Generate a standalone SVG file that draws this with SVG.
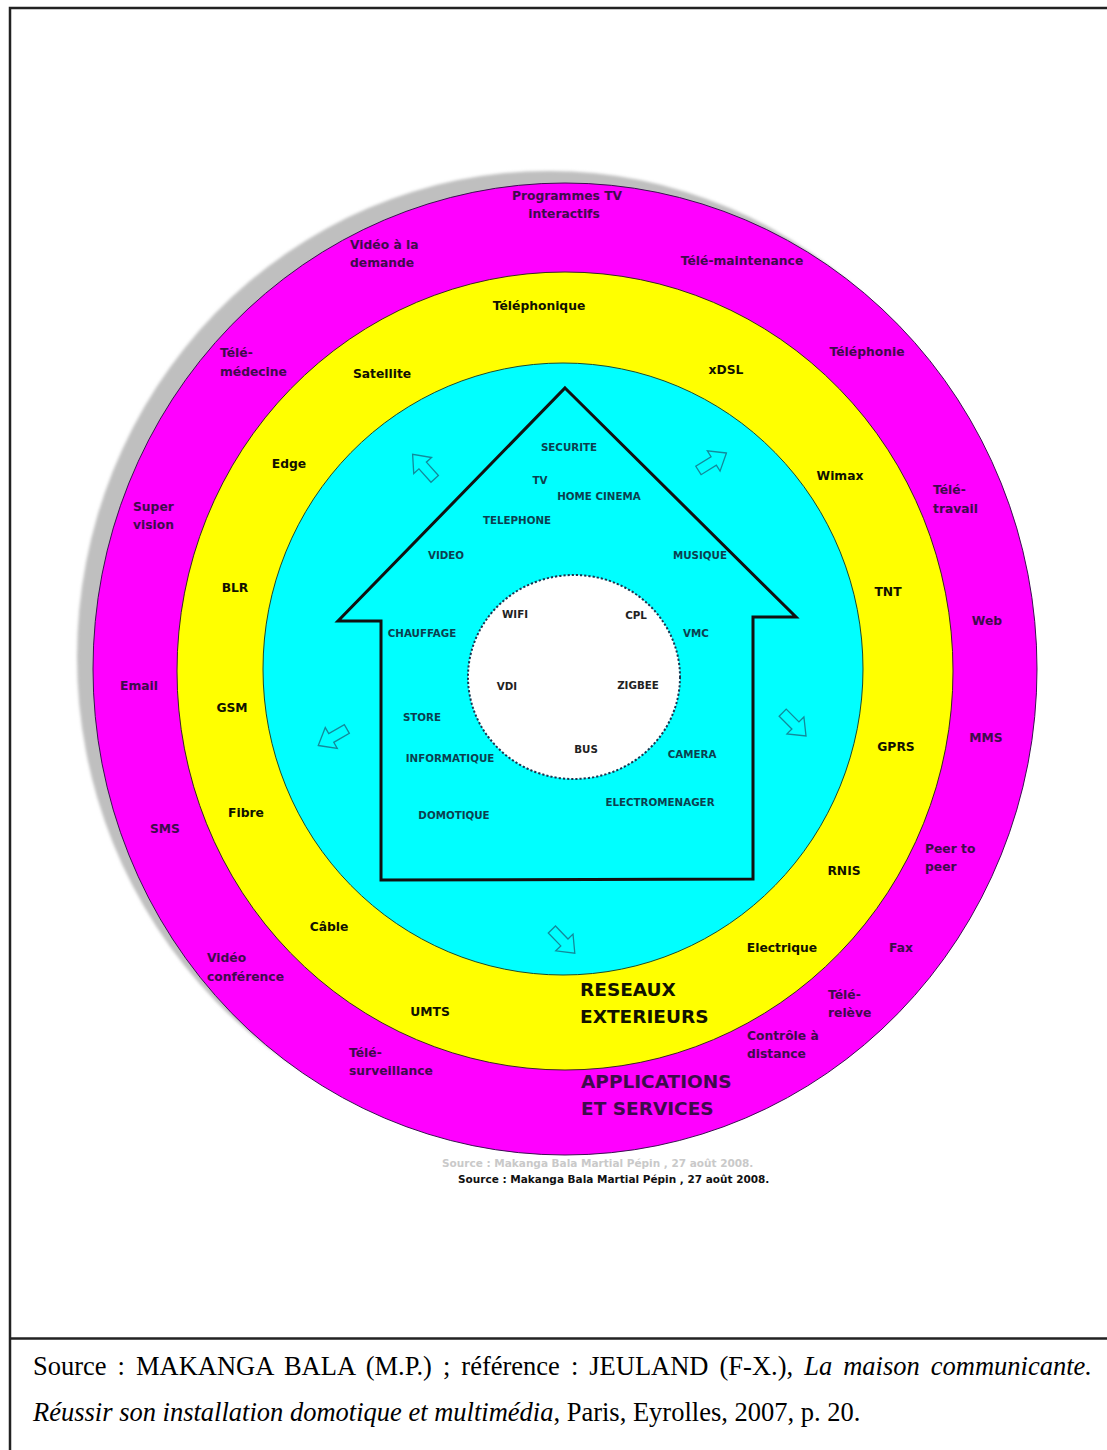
<svg xmlns="http://www.w3.org/2000/svg" width="1107" height="1450" viewBox="0 0 1107 1450">
<defs>
<style>
.ring{font-family:"DejaVu Sans",Verdana,sans-serif;font-weight:bold;font-size:12.3px}
.app{fill:#3e0b4c}
.net{fill:#111100}
.dev{font-family:"DejaVu Sans",Verdana,sans-serif;font-weight:bold;font-size:10.3px;fill:#0c3f4f}
.bus{font-family:"DejaVu Sans",Verdana,sans-serif;font-weight:bold;font-size:10.3px;fill:#222222}
.big{font-family:"DejaVu Sans",Verdana,sans-serif;font-weight:bold;font-size:18.5px}
.src{font-family:"DejaVu Sans",Verdana,sans-serif;font-weight:bold;font-size:10.5px}
.cap{font-family:"Liberation Serif","Times New Roman",serif;font-size:26.5px;fill:#000}
.mid{text-anchor:middle}
.frame{stroke:#222;stroke-width:2.5;fill:none}
.arr{fill:none;stroke:#13899a;stroke-width:1.3;stroke-linejoin:miter}
</style>
<path id="blk" d="M17,0 L2,-12 L2,-5 L-16,-5 L-16,5 L2,5 L2,12 Z"/>
<filter id="soft" x="-5%" y="-5%" width="110%" height="110%"><feGaussianBlur stdDeviation="1.5"/></filter>
</defs>
<rect width="1107" height="1450" fill="#ffffff"/>
<g id="frame">
<path class="frame" d="M10,1450 L10,8 L1107,8"/>
<path class="frame" d="M10,1338.5 L1107,1338.5"/>
</g>
<g id="ring-applications">
<ellipse cx="549" cy="657" rx="472" ry="486" fill="#bfbfbf" filter="url(#soft)"/>
<ellipse cx="565" cy="669" rx="472" ry="486" fill="#ff00ff" stroke="#3a1050" stroke-width="1"/>
</g>
<g id="ring-reseaux">
<ellipse cx="565" cy="671" rx="388" ry="399" fill="#ffff00" stroke="#3a2a20" stroke-width="1"/>
</g>
<g id="ring-maison">
<ellipse cx="563" cy="669" rx="300" ry="306" fill="#00ffff" stroke="#1a4a30" stroke-width="1"/>
</g>
<g id="house">
<polygon points="565,388 796,617 753,617 753,879 381,880 381,621 338,621" fill="#00ffff" stroke="#111111" stroke-width="3" stroke-linejoin="miter"/>
</g>
<g id="core">
<ellipse cx="574" cy="677" rx="106" ry="102" fill="#ffffff" stroke="#1a3550" stroke-width="2" stroke-dasharray="2.2 2"/>
</g>
<g id="connectors">
<use href="#blk" class="arr" transform="translate(424,467) rotate(-132)"/>
<use href="#blk" class="arr" transform="translate(712,462) rotate(-32)"/>
<use href="#blk" class="arr" transform="translate(333,737) rotate(150)"/>
<use href="#blk" class="arr" transform="translate(794,724) rotate(45)"/>
<use href="#blk" class="arr" transform="translate(563,941) rotate(46)"/>
</g>
<g id="labels-applications" class="ring app">
<text class="mid" x="567" y="200">Programmes TV</text>
<text class="mid" x="564" y="218">interactifs</text>
<text x="350" y="249">Vidéo à la</text>
<text x="350" y="267">demande</text>
<text class="mid" x="742" y="265">Télé-maintenance</text>
<text x="220" y="357">Télé-</text>
<text x="220" y="376">médecine</text>
<text class="mid" x="867" y="356">Téléphonie</text>
<text x="133" y="511">Super</text>
<text x="133" y="529">vision</text>
<text x="933" y="494">Télé-</text>
<text x="933" y="513">travail</text>
<text class="mid" x="987" y="625">Web</text>
<text class="mid" x="139" y="690">Email</text>
<text class="mid" x="986" y="742">MMS</text>
<text class="mid" x="165" y="833">SMS</text>
<text x="925" y="853">Peer to</text>
<text x="925" y="871">peer</text>
<text x="207" y="962">Vidéo</text>
<text x="207" y="981">conférence</text>
<text class="mid" x="901" y="952">Fax</text>
<text x="828" y="999">Télé-</text>
<text x="828" y="1017">relève</text>
<text x="747" y="1040">Contrôle à</text>
<text x="747" y="1058">distance</text>
<text x="349" y="1057">Télé-</text>
<text x="349" y="1075">surveillance</text>
</g>
<g id="title-applications" class="big app">
<text x="581" y="1088">APPLICATIONS</text>
<text x="581" y="1115">ET SERVICES</text>
</g>
<g id="labels-reseaux" class="ring net">
<text class="mid" x="539" y="310">Téléphonique</text>
<text class="mid" x="382" y="378">Satellite</text>
<text class="mid" x="726" y="374">xDSL</text>
<text class="mid" x="289" y="468">Edge</text>
<text class="mid" x="840" y="480">Wimax</text>
<text class="mid" x="235" y="592">BLR</text>
<text class="mid" x="888" y="596">TNT</text>
<text class="mid" x="232" y="712">GSM</text>
<text class="mid" x="896" y="751">GPRS</text>
<text class="mid" x="246" y="817">Fibre</text>
<text class="mid" x="844" y="875">RNIS</text>
<text class="mid" x="329" y="931">Câble</text>
<text class="mid" x="782" y="952">Electrique</text>
<text class="mid" x="430" y="1016">UMTS</text>
</g>
<g id="title-reseaux" class="big net">
<text x="580" y="996">RESEAUX</text>
<text x="580" y="1023">EXTERIEURS</text>
</g>
<g id="labels-maison" class="dev mid">
<text x="569" y="451">SECURITE</text>
<text x="540" y="484">TV</text>
<text x="599" y="500">HOME CINEMA</text>
<text x="517" y="524">TELEPHONE</text>
<text x="446" y="559">VIDEO</text>
<text x="700" y="559">MUSIQUE</text>
<text x="422" y="637">CHAUFFAGE</text>
<text x="696" y="637">VMC</text>
<text x="422" y="721">STORE</text>
<text x="450" y="762">INFORMATIQUE</text>
<text x="692" y="758">CAMERA</text>
<text x="660" y="806">ELECTROMENAGER</text>
<text x="454" y="819">DOMOTIQUE</text>
</g>
<g id="labels-core" class="bus mid">
<text x="515" y="618">WIFI</text>
<text x="636" y="619">CPL</text>
<text x="507" y="690">VDI</text>
<text x="638" y="689">ZIGBEE</text>
<text x="586" y="753">BUS</text>
</g>
<g id="source-figure" class="src">
<text x="442" y="1167" fill="#c9c9c9">Source : Makanga Bala Martial Pépin , 27 août 2008.</text>
<text x="458" y="1183" fill="#111111">Source : Makanga Bala Martial Pépin , 27 août 2008.</text>
</g>
<g id="caption" class="cap">
<text x="33" y="1375" word-spacing="4.4">Source : MAKANGA BALA (M.P.) ; référence : JEULAND (F-X.), <tspan font-style="italic">La maison communicante.</tspan></text>
<text x="33" y="1421"><tspan font-style="italic">Réussir son installation domotique et multimédia</tspan>, Paris, Eyrolles, 2007, p. 20.</text>
</g>
</svg>
